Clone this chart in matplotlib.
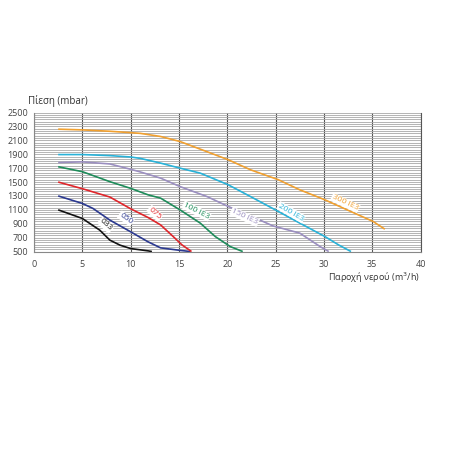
import numpy as np
import matplotlib
matplotlib.use("Agg")
import matplotlib.pyplot as plt
from matplotlib.ticker import MultipleLocator

plt.rcParams['font.family'] = ['Open Sans', 'DejaVu Sans']

# ---- data (flow m3/h, pressure mbar) ----
x_033 = [2.5, 5.0, 6.8, 7.85, 8.9, 10.0, 11.8, 12.2]
y_033 = [1100, 976, 808, 664, 592, 543, 510, 500]

x_050 = [2.5, 5.0, 6.1, 7.85, 10.0, 11.8, 13.1, 15.1, 16.2]
y_050 = [1300, 1192, 1120, 952, 784, 640, 553, 517, 500]

x_075 = [2.5, 5.0, 7.85, 10.0, 11.8, 13.1, 14.4, 15.3, 16.3]
y_075 = [1500, 1404, 1284, 1115, 990, 883, 716, 597, 500]

x_100 = [2.5, 5.0, 7.85, 10.0, 11.8, 13.1, 15.1, 17.2, 18.75, 20.3, 21.6]
y_100 = [1720, 1649, 1505, 1409, 1316, 1268, 1100, 909, 716, 572, 500]

x_150 = [2.5, 5.0, 7.85, 10.0, 11.0, 13.1, 15.1, 17.9, 20.1, 22.4, 24.7, 27.5, 29.6, 30.5]
y_150 = [1780, 1790, 1760, 1683, 1645, 1556, 1435, 1291, 1148, 1014, 870, 765, 572, 500]

x_200 = [2.5, 5.0, 7.85, 10.0, 11.0, 13.1, 15.1, 17.2, 20.1, 22.4, 25.1, 27.5, 30.1, 31.5, 32.8]
y_200 = [1895, 1895, 1880, 1860, 1840, 1772, 1700, 1628, 1460, 1291, 1090, 909, 716, 597, 500]

x_300 = [2.5, 5.0, 7.85, 10.0, 11.0, 13.1, 15.1, 17.2, 20.1, 22.4, 25.3, 27.5, 30.1, 32.4, 35.1, 36.3]
y_300 = [2260, 2250, 2230, 2210, 2200, 2155, 2083, 1973, 1820, 1676, 1532, 1388, 1244, 1100, 932, 822]

series = [
    ("033", x_033, y_033, "#111111", (7.4, 880, -42)),
    ("050", x_050, y_050, "#2b3990", (9.5, 975, -35)),
    ("075", x_075, y_075, "#e0262b", (12.5, 1050, -42)),
    ("100 IE3", x_100, y_100, "#1e8c5a", (16.8, 1085, -27)),
    ("150 IE3", x_150, y_150, "#9b8fc0", (21.8, 1000, -25)),
    ("200 IE3", x_200, y_200, "#29b2d8", (26.6, 1065, -30)),
    ("300 IE3", x_300, y_300, "#f0a030", (32.2, 1200, -25)),
]

x_ticks = [0, 5, 10, 15, 20, 25, 30, 35, 40]
y_ticks = [500, 700, 900, 1100, 1300, 1500, 1700, 1900, 2100, 2300, 2500]

fig = plt.figure(figsize=(4.5, 4.5), dpi=100)
ax = fig.add_axes([0.0756, 0.441, 0.859, 0.309])
ax.set_xlim(0, 40)
ax.set_ylim(500, 2500)

# grid
ax.yaxis.set_minor_locator(MultipleLocator(2000 / 60))
ax.grid(which='minor', axis='y', color='#a8a8a8', lw=0.6)
ax.grid(which='major', axis='y', color='#a8a8a8', lw=0.6)
ax.set_xticks(x_ticks)
ax.set_yticks(y_ticks)
ax.grid(which='major', axis='x', color='#555555', lw=0.8)
ax.set_axisbelow(True)
ax.tick_params(which='both', length=0)
ax.tick_params(axis='x', pad=6, labelsize=6.5, colors='#444444')
ax.tick_params(axis='y', pad=4, labelsize=6.5, colors='#444444')
ax.spines['top'].set_visible(False)
ax.spines['left'].set_color('#888888')
ax.spines['bottom'].set_color('#888888')
ax.spines['right'].set_color('#555555')
for s in ['left', 'bottom', 'right']:
    ax.spines[s].set_linewidth(0.8)

for name, xs, ys, col, (lx, ly, rot) in series:
    ax.plot(xs, ys, color=col, lw=1.2, solid_capstyle='butt',
            solid_joinstyle='round', zorder=3)
    ax.text(lx, ly, name, color=col, fontsize=6, rotation=rot,
            ha='center', va='center', rotation_mode='anchor', zorder=4,
            bbox=dict(boxstyle='square,pad=0.1', fc='white', ec='none'))

fig.text(0.062, 0.763, "Πίεση (mbar)", fontsize=7, color='#333333',
         ha='left', va='bottom')
fig.text(0.934, 0.382, "Παροχή νερού (m$^3$/h)", fontsize=6.5, color='#333333',
         ha='right', va='center')

fig.savefig("out.png", dpi=100)
